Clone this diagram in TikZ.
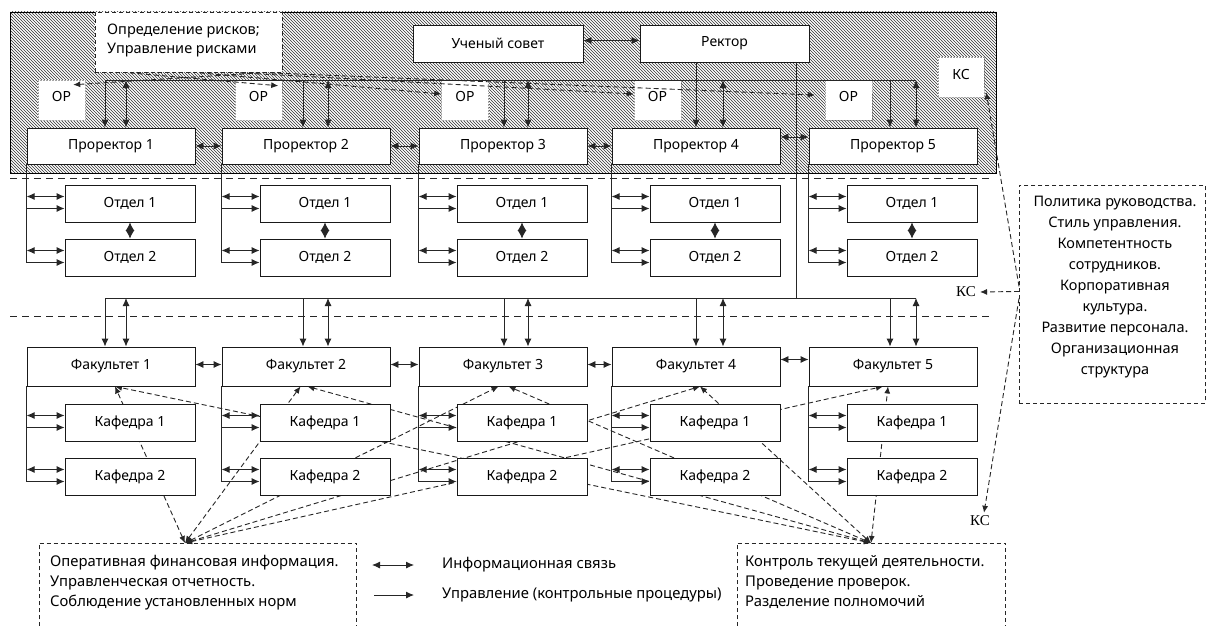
\documentclass[tikz,border=0pt]{standalone}
\usepackage{fontspec}
\setmainfont{Noto Sans}
\newfontfamily\kcfont{Liberation Serif}
\usetikzlibrary{arrows.meta,patterns,calc}
\pgfdeclarelayer{background}
\pgfsetlayers{background,main}
\pgfdeclarepatternformonly{hatchnw}{\pgfqpoint{-1pt}{-1pt}}{\pgfqpoint{4pt}{4pt}}{\pgfqpoint{3pt}{3pt}}{%
  \pgfsetlinewidth{0.6pt}%
  \pgfpathmoveto{\pgfqpoint{0pt}{3pt}}%
  \pgfpathlineto{\pgfqpoint{3.1pt}{-0.1pt}}%
  \pgfusepath{stroke}}
\begin{document}
\begin{tikzpicture}[x=1pt,y=-1pt,
  txt/.style={font=\fontsize{14}{16}\selectfont, inner sep=0pt},
  btxt/.style={font=\fontsize{14.8}{20}\selectfont, inner sep=0pt},
  box/.style={draw=black!90, line width=0.9pt, fill=white, minimum width=168pt, minimum height=36pt, inner sep=0pt, font=\fontsize{14}{16}\selectfont},
  sbox/.style={box, minimum width=130pt, minimum height=37pt},
  orbox/.style={fill=white, draw=black!35, densely dotted, line width=0.5pt, minimum width=47pt, minimum height=40pt, inner sep=0pt},
  dbox/.style={draw=black!85, line width=0.9pt, dash pattern=on 4pt off 3pt},
  solid line/.style={line width=0.9pt, draw=black!85},
  info/.style={solid line, {Latex[length=8pt,width=7pt]}-{Latex[length=8pt,width=7pt]}},
  ctrl/.style={solid line, -{Latex[length=8pt,width=7pt]}},
  diam/.style={solid line, {Latex[length=8.5pt,width=9pt]}-{Latex[length=8.5pt,width=9pt]}},
  dline/.style={line width=0.9pt, draw=black!85, dash pattern=on 5pt off 3pt},
  darr/.style={dline, {Latex[length=7pt,width=6pt]}-{Latex[length=7pt,width=6pt]}},
  dctrl/.style={dline, -{Latex[length=7pt,width=6pt]}},
  sep/.style={line width=0.9pt, draw=black!85, dash pattern=on 7pt off 5pt}]
\useasboundingbox (0,0) rectangle (1207,626);
% hatched top management zone
\draw[line width=0.8pt, pattern=hatchnw, pattern color=black!80] (10,12) rectangle (996,173);
% separators
\coordinate (s1a) at (10,178); \coordinate (s1b) at (993,178);
\coordinate (s2a) at (10,316); \coordinate (s2b) at (993,316);
\draw[sep] (s1a) -- (s1b);
\draw[sep] (s2a) -- (s2b);
% risk box
\node[dbox, fill=white, minimum width=187pt, minimum height=60pt, anchor=north west, inner sep=0pt] (risk) at (95,12) {};
\node[txt, anchor=north west, align=left, font=\fontsize{14.5}{18.5}\selectfont] (riskt) at (107,24) {Определение рисков;\\Управление рисками};
% top boxes
\node[box, minimum width=170pt, minimum height=37pt] (council) at (498,43.5) {Ученый совет};
\node[box, minimum width=169pt, minimum height=37pt] (rector) at (724.5,43.5) {Ректор};
\draw[info] ([yshift=3pt]council.east) -- ([yshift=3pt]rector.west);
% OR boxes
\foreach \i/\x in {1/61.5,2/258.5,3/465,4/657.5,5/848.5} {
  \node[orbox] (or\i) at (\x,100) {};
  \node[txt] (or\i t) at (\x,96) {ОР};
}
\node[orbox, minimum width=46pt] (kc1) at (961,77) {};
\node[txt] (kc1t) at (961,75) {КС};
% columns
\foreach \i/\x in {1/27,2/222,3/419,4/612,5/809} {
  \node[box] (p\i) at (\x+84,146) {Проректор \i};
  \node[sbox] (oa\i) at (\x+103,203.5) {Отдел 1};
  \node[sbox] (ob\i) at (\x+103,257.5) {Отдел 2};
  \node[box, minimum height=39pt] (f\i) at (\x+84,366.5) {Факультет \i};
  \node[sbox] (ka\i) at (\x+103,422.5) {Кафедра 1};
  \node[sbox] (kb\i) at (\x+103,476.5) {Кафедра 2};
}
% brackets
\foreach \i in {1,...,5} {
  \draw[ctrl] (p\i.south west) |- ($(ob\i.west)+(0,5)$);
  \draw[ctrl] ($(p\i.west |- oa\i.west)+(0,5)$) -- ($(oa\i.west)+(0,5)$);
  \draw[info] ($(p\i.west |- oa\i.west)+(0,-7)$) -- ($(oa\i.west)+(0,-7)$);
  \draw[info] ($(p\i.west |- ob\i.west)+(0,-7)$) -- ($(ob\i.west)+(0,-7)$);
  \draw[diam] (oa\i.south) -- (ob\i.north);
  \draw[ctrl] (f\i.south west) |- ($(kb\i.west)+(0,5)$);
  \draw[ctrl] ($(f\i.west |- ka\i.west)+(0,5)$) -- ($(ka\i.west)+(0,5)$);
  \draw[info] ($(f\i.west |- ka\i.west)+(0,-7)$) -- ($(ka\i.west)+(0,-7)$);
  \draw[info] ($(f\i.west |- kb\i.west)+(0,-7)$) -- ($(kb\i.west)+(0,-7)$);
}
% horizontal links
\draw[info] (p1.east) -- (p2.west);
\draw[info] (p2.east) -- (p3.west);
\draw[info] (p3.east) -- (p4.west);
\draw[info] ([yshift=9pt]p4.east) -- ([yshift=9pt]p5.west);
\draw[info] ([yshift=2pt]f1.east) -- ([yshift=2pt]f2.west);
\draw[info] ([yshift=2pt]f2.east) -- ([yshift=2pt]f3.west);
\draw[info] ([yshift=2pt]f3.east) -- ([yshift=2pt]f4.west);
\draw[info] ([yshift=7pt]f4.east) -- ([yshift=7pt]f5.west);
% buses
\foreach \i/\d/\n in {1/105/126,2/303/328,3/504/528,4/696/723,5/890/916} {
  \coordinate (td\i) at (\d,80); \coordinate (ti\i) at (\n,80);
  \coordinate (bd\i) at (\d,298); \coordinate (bi\i) at (\n,298);
}
\coordinate (rl) at (796,298);
\foreach \i in {1,...,5} {
  \draw[ctrl] (td\i) -- (td\i |- p\i.north);
  \draw[info] (ti\i) -- (ti\i |- p\i.north);
  \draw[ctrl] (bd\i) -- (bd\i |- f\i.north);
  \draw[info] (bi\i) -- (bi\i |- f\i.north);
}
\draw[solid line] (td1) -- (ti5);
\draw[solid line] (td4 |- rector.south) -- (td4);
\draw[solid line] (bd1) -- (bi5);
\draw[solid line] (rl |- rector.south) -- (rl);
% risk arrows
\draw[dctrl] ($(risk.south west)+(165,0)$) -- ($(or1.north east)+(-12,5)$);
\draw[dctrl] ($(risk.south west)+(35,0)$) -- ($(or2.north east)+(-4,6)$);
\draw[dctrl] ($(risk.south west)+(105,0)$) -- ($(or3.west)+(0,-6)$);
\draw[dctrl] ($(risk.south west)+(145,0)$) -- ($(or4.west)+(0,-6)$);
\draw[dctrl] ($(risk.south west)+(175,0)$) -- ($(or5.west)+(-10,-5)$);
% bottom boxes
\node[minimum width=317pt, minimum height=83pt, anchor=north west, inner sep=0pt] (fin) at (39,543) {};
\draw[dbox] (fin.south west) -- (fin.north west) -- (fin.north east) -- (fin.south east);
\node[btxt, anchor=north west, align=left] (fint) at (50,555) {Оперативная финансовая информация.\\Управленческая отчетность.\\Соблюдение установленных норм};
\node[minimum width=268pt, minimum height=83pt, anchor=north west, inner sep=0pt] (ctl) at (737,543) {};
\draw[dbox] (ctl.south west) -- (ctl.north west) -- (ctl.north east) -- (ctl.south east);
\node[btxt, anchor=north west, align=left] (ctlt) at (745,555) {Контроль текущей деятельности.\\Проведение проверок.\\Разделение полномочий};
\coordinate (L) at ($(fin.north west)+(146,0)$);
\coordinate (R) at ($(ctl.north west)+(134,0)$);
\begin{pgfonlayer}{background}
  \fill[white] (0,0) rectangle (1207,626);
  \draw[darr] (L) -- ([xshift=4pt]f1.south);
  \draw[darr] (L) -- ([xshift=-5.5pt]f2.south);
  \draw[darr] (L) -- ([xshift=-4.5pt]f3.south);
  \draw[darr] (L) -- ([xshift=4pt]f4.south);
  \draw[darr] (L) -- ([xshift=-10pt]f5.south);
  \draw[darr] (R) -- ([xshift=4pt]f1.south);
  \draw[darr] (R) -- ([xshift=1.5pt]f2.south);
  \draw[darr] (R) -- ([xshift=5.5pt]f3.south);
  \draw[darr] (R) -- ([xshift=4pt]f4.south);
  \draw[darr] (R) -- ([xshift=-5pt]f5.south);
\end{pgfonlayer}
% policy box
\node[dbox, minimum width=186pt, minimum height=218pt, anchor=north west, inner sep=0pt] (policy) at (1019,185) {};
\node[txt, anchor=north, align=center, font=\fontsize{14.5}{21}\selectfont] (policyt) at (1115,196) {Политика руководства.\\Стиль управления.\\Компетентность\\сотрудников.\\Корпоративная\\культура.\\Развитие персонала.\\Организационная\\структура};
\node[txt, font=\kcfont\fontsize{15}{17}\selectfont] (kc2) at (966,292) {КС};
\node[txt, font=\kcfont\fontsize{15}{17}\selectfont] (kc3) at (980,521) {КС};
\draw[dctrl] ([yshift=8pt]policy.west) -- ($(kc1.south east)+(2,-5)$);
\draw[dctrl] ([yshift=3pt]policy.west) -- ([xshift=4pt]kc2.east);
\draw[dctrl] ([yshift=-4pt]policy.west) -- ([xshift=4pt,yshift=3pt]kc3.north);
% legend
\coordinate (lg1a) at (372,565); \coordinate (lg1b) at (414,565);
\coordinate (lg2a) at (374,595); \coordinate (lg2b) at (414,595);
\draw[info] (lg1a) -- (lg1b);
\draw[ctrl] (lg2a) -- (lg2b);
\node[btxt, anchor=west] (lgt1) at (442,565) {Информационная связь};
\node[btxt, anchor=west] (lgt2) at (442,595) {Управление (контрольные процедуры)};
\end{tikzpicture}
\end{document}
